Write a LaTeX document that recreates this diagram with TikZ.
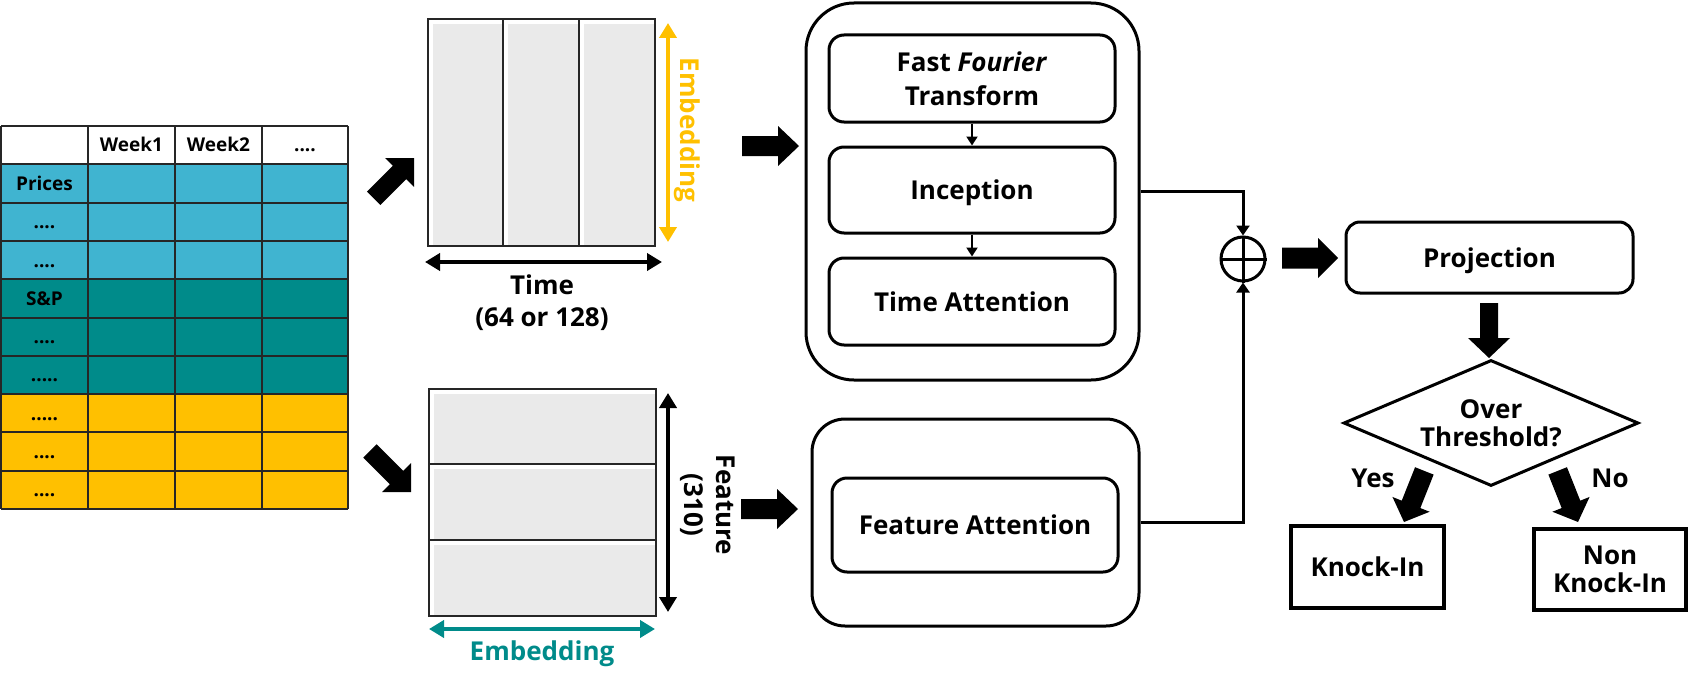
\documentclass[tikz,border=0pt]{standalone}
\usepackage{fontspec}
\setmainfont{Open Sans}
\usetikzlibrary{arrows.meta,shapes.geometric,calc}
\definecolor{cblue}{RGB}{64,180,208}
\definecolor{cteal}{RGB}{0,139,138}
\definecolor{cyel}{RGB}{255,192,0}
\definecolor{cgrid}{RGB}{38,38,38}
\definecolor{cgray}{RGB}{234,234,234}
\newcommand\dotsfour{....}
\newcommand\dotsfive{.....}
\newcommand\myblockarrow[6]{%
  \begin{scope}[shift={#1},rotate=#2]
    \fill (0,0) -- (-#6,#5) -- (-#6,#4) -- (-#3,#4) -- (-#3,-#4) -- (-#6,-#4) -- (-#6,-#5) -- cycle;
  \end{scope}}
\begin{document}
\begin{tikzpicture}[x=1pt,y=-1pt,
  big/.style={font=\fontsize{26}{32}\selectfont\bfseries, inner sep=0pt, align=center},
  tbl/.style={font=\fontsize{19}{22}\selectfont\bfseries, inner sep=0pt, anchor=base},
  rbox/.style={draw, line width=3pt, rounded corners=15pt, inner sep=0pt},
  sqbox/.style={draw, line width=4pt, inner sep=0pt},
  conn/.style={line width=2pt, -{Triangle[length=9pt,width=11pt]}},
  connb/.style={line width=3pt, -{Triangle[length=10pt,width=13pt]}},
  dimarrow/.style={line width=4pt, {Triangle[length=15pt,width=17pt]}-{Triangle[length=15pt,width=17pt]}},
  panel/.style={draw=cgrid, line width=1.5pt, inner sep=0pt}
]
\useasboundingbox (0,0) rectangle (1688,685);

% ---------------- table ----------------
\fill[white] (1,126) rectangle (348,164.3);
\foreach \i/\c/\t in {1/cblue/Prices,2/cblue/\dotsfour,3/cblue/\dotsfour,4/cteal/S\&P,5/cteal/\dotsfour,6/cteal/\dotsfive,7/cyel/\dotsfive,8/cyel/\dotsfour,9/cyel/\dotsfour}{
  \fill[\c] (1,{126+38.3*\i}) rectangle (348,{126+38.3*(\i+1)});
  \node[tbl] (row\i) at (44.5,{126+38.3*\i+19.15+7}) {\t};
}
\node[tbl] (hw1) at (131.5,{126+19.15+6}) {Week1};
\node[tbl] (hw2) at (218.5,{126+19.15+6}) {Week2};
\node[tbl] (hw3) at (305,{126+19.15+6}) {\dotsfour};
\foreach \i in {0,1,2,3,4,5,6,7,8,9,10}{
  \draw[cgrid, line width=2pt] (1,{126+38.3*\i}) -- (348,{126+38.3*\i});
}
\foreach \x in {1,88,175,262,348}{
  \draw[cgrid, line width=2pt] (\x,126) -- (\x,509);
}

% ---------------- top panel (time) ----------------
\foreach \a/\b in {428/503,503/579,579/655}{
  \fill[cgray] (\a+4.5,24.5) rectangle (\b-1.5,244.5);
}
\node[panel, minimum width=227pt, minimum height=227pt] (tpan) at (541.5,132.5) {};
\draw[cgrid, line width=1.5pt] (503,19) -- (503,246) (579,19) -- (579,246);
\coordinate (tdl) at (425,262);
\coordinate (tdr) at (662,262);
\draw[dimarrow] (tdl) -- (tdr);
\node[big] (tlab) at (542,302.5) {Time\\(64 or 128)};
\coordinate (edt) at (668,23);
\coordinate (edb) at (668,242);
\draw[dimarrow, cyel] (edt) -- (edb);
\node[big, rotate=-90, text=cyel, text depth=0pt] (emb1) at (690,130) {Embedding};

% ---------------- lower panel (feature) ----------------
\foreach \a/\b in {389/464,464/540,540/616}{
  \fill[cgray] (433.5,\a+5) rectangle (654.5,\b-1.5);
}
\node[panel, minimum width=227pt, minimum height=227pt] (bpan) at (542.5,502.5) {};
\draw[cgrid, line width=1.5pt] (429,464) -- (656,464) (429,540) -- (656,540);
\coordinate (fdt) at (668,393);
\coordinate (fdb) at (668,612);
\draw[dimarrow] (fdt) -- (fdb);
\node[big, rotate=-90] (feat) at (708,505) {Feature\\(310)};
\coordinate (edl) at (429,629);
\coordinate (edr) at (655,629);
\draw[dimarrow, cteal] (edl) -- (edr);
\node[big, text=cteal, text depth=0pt] (emb2) at (542,651) {Embedding};

% ---------------- block arrows ----------------
\myblockarrow{(414,158)}{45}{57}{9.5}{20.5}{20.5}
\myblockarrow{(411,492)}{-45}{58}{9.5}{20.5}{20.5}
\myblockarrow{(799,146)}{0}{57}{10}{20}{21}
\myblockarrow{(798,509)}{0}{57}{10}{20}{21}
\myblockarrow{(1338,258)}{0}{56}{10.5}{20}{20}
\myblockarrow{(1489,358)}{-90}{55}{9}{21}{20}
\myblockarrow{(1404,522)}{-111.7}{55}{10}{20}{19}
\myblockarrow{(1578,522)}{-68.3}{55}{10}{20}{19}

% ---------------- time block ----------------
\node[rbox, rounded corners=48pt, minimum width=333pt, minimum height=377pt] (tblk) at (972.5,191.5) {};
\node[rbox, big, font=\fontsize{26}{34}\selectfont\bfseries, minimum width=286pt, minimum height=87pt] (fft) at (972,78.5) {Fast \textit{Fourier}\\Transform};
\node[rbox, big, text depth=0pt, minimum width=286pt, minimum height=86pt] (inc) at (972,190) {Inception};
\node[rbox, big, text depth=0pt, minimum width=286pt, minimum height=87pt] (ta) at (972,301.5) {Time Attention};
\draw[conn] (fft.south) -- (inc.north);
\draw[conn] (inc.south) -- (ta.north);

% ---------------- feature block ----------------
\node[rbox, rounded corners=33pt, minimum width=327pt, minimum height=207pt] (fblk) at (975.5,522.5) {};
\node[rbox, big, text depth=0pt, minimum width=286pt, minimum height=94pt] (fa) at (975,525) {Feature Attention};

% ---------------- merge ----------------
\node[circle, draw, line width=3pt, minimum size=44pt, inner sep=0pt] (oplus) at (1243,259) {};
\draw[line width=3pt] (oplus.north) -- (oplus.south) (oplus.west) -- (oplus.east);
\draw[connb] (tblk.east) -| (oplus.north);
\draw[connb] (fblk.east) -| (oplus.south);

% ---------------- right side ----------------
\node[rbox, big, text depth=0pt, rounded corners=14pt, minimum width=287pt, minimum height=71pt] (proj) at (1489.5,257.5) {Projection};
\node[diamond, draw, line width=3pt, minimum width=295pt, minimum height=126pt, inner sep=0pt, aspect=2.34, big, font=\fontsize{26}{28}\selectfont\bfseries] (thr) at (1491,423) {Over\\Threshold?};
\node[big, text depth=0pt] (yes) at (1373,478) {Yes};
\node[big, text depth=0pt] (no) at (1610,478) {No};
\node[sqbox, big, text depth=0pt, minimum width=153pt, minimum height=82pt] (ki) at (1367.5,567) {Knock-In};
\node[sqbox, big, font=\fontsize{26}{28}\selectfont\bfseries, minimum width=152pt, minimum height=81pt] (nki) at (1610,569.5) {Non\\Knock-In};
\end{tikzpicture}
\end{document}
